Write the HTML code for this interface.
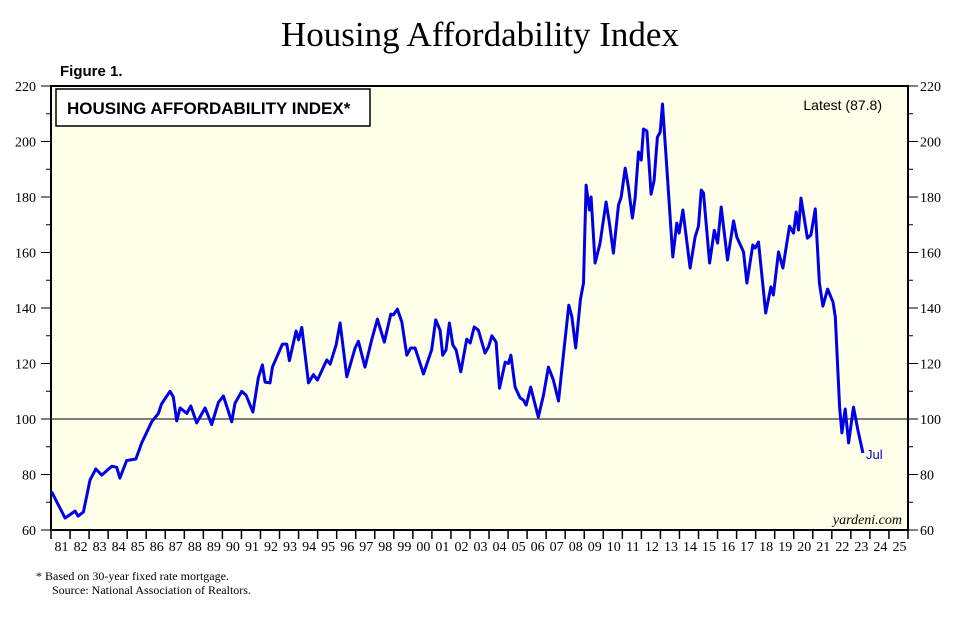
<!DOCTYPE html>
<html><head><meta charset="utf-8"><style>
body{margin:0;background:#fff;width:964px;height:620px;overflow:hidden}
svg text{font-family:"Liberation Sans",sans-serif}
</style></head><body>
<svg id="c" width="964" height="620">
<text x="480" y="46" text-anchor="middle" style="font-family:'Liberation Serif',serif;font-size:35px">Housing Affordability Index</text>
<text x="60" y="76" style="font-weight:bold;font-size:15px">Figure 1.</text>
<rect x="51" y="86" width="857" height="444" fill="#fffee9" stroke="#000" stroke-width="2"/>
<g id="grid"></g>
<g id="axes"></g>
<path id="line" fill="none" stroke="#0000e6" stroke-width="3" stroke-linejoin="round"/>
<rect x="56" y="89" width="314" height="37" fill="#fff" stroke="#000" stroke-width="1.5"/>
<text x="67" y="114" style="font-weight:bold;font-size:17px">HOUSING AFFORDABILITY INDEX*</text>
<text x="882" y="110" text-anchor="end" style="font-size:14px">Latest (87.8)</text>
<text x="866" y="459" fill="#0000cc" style="font-size:13px">Jul</text>
<text x="902" y="524" text-anchor="end" style="font-family:'Liberation Serif',serif;font-style:italic;font-size:14px">yardeni.com</text>
<text x="36" y="580" style="font-family:'Liberation Serif',serif;font-size:12px">*   Based on 30-year fixed rate mortgage.</text>
<text x="52" y="594" style="font-family:'Liberation Serif',serif;font-size:12px">Source: National Association of Realtors.</text>
</svg>
<script>
const dates=[1981.03,1981.74,1982.26,1982.43,1982.7,1983.05,1983.35,1983.66,1984.19,1984.45,1984.62,1984.97,1985.46,1985.76,1986.29,1986.64,1986.8,1987.25,1987.42,1987.6,1987.78,1988.13,1988.34,1988.65,1989.09,1989.44,1989.79,1990.05,1990.28,1990.49,1990.66,1991.02,1991.24,1991.6,1991.89,1992.1,1992.24,1992.5,1992.63,1992.86,1993.15,1993.38,1993.52,1993.87,1994,1994.17,1994.52,1994.78,1994.99,1995.48,1995.66,1995.97,1996.18,1996.53,1996.97,1997.14,1997.49,1997.84,1998.14,1998.5,1998.84,1998.98,1999.19,1999.42,1999.68,1999.89,2000.12,2000.56,2000.99,2001.2,2001.43,2001.57,2001.74,2001.92,2002.1,2002.27,2002.52,2002.83,2003.01,2003.22,2003.44,2003.79,2003.97,2004.15,2004.37,2004.55,2004.85,2005.02,2005.15,2005.37,2005.63,2005.81,2005.95,2006.19,2006.59,2006.86,2007.12,2007.38,2007.65,2007.91,2008.19,2008.35,2008.55,2008.8,2008.96,2009.1,2009.27,2009.36,2009.57,2009.83,2009.97,2010.15,2010.32,2010.53,2010.8,2010.94,2011.15,2011.32,2011.53,2011.67,2011.85,2011.99,2012.11,2012.29,2012.51,2012.67,2012.84,2012.99,2013.11,2013.3,2013.65,2013.86,2013.98,2014.18,2014.56,2014.82,2015,2015.14,2015.26,2015.58,2015.83,2016,2016.19,2016.52,2016.84,2017.01,2017.36,2017.54,2017.85,2017.97,2018.15,2018.53,2018.8,2018.93,2019.2,2019.43,2019.78,2019.99,2020.13,2020.25,2020.38,2020.72,2020.9,2021.13,2021.35,2021.53,2021.78,2022.06,2022.18,2022.41,2022.53,2022.7,2022.88,2023.14,2023.37,2023.63];
const values=[73.8,64.3,66.8,65,66.5,78,82,79.8,83,82.6,78.7,85,85.6,91.4,99,102,105.4,110,108,99.3,104,102,104.7,98.6,104,98,106,108.3,103.5,99,105.7,110,108.6,102.5,115,119.5,113.3,113,118.8,122.4,127,127,121,131.7,128.5,133,113,116,114,121.3,119.8,126.7,134.6,115.2,125.6,128,118.7,128.5,136,127.7,137.8,137.5,139.6,135,123,125.6,125.6,116.2,125,135.7,132,123,124.9,134.6,126.7,124.9,117,128.8,127.4,133.2,132,123.8,126,130,127.7,111.1,120.5,120,123,111.5,107.6,106.8,105,111.5,100.7,108.6,118.7,114,106.5,123.4,141,136.8,125.6,143,149,184.3,175.3,180,156.2,163.4,170,178.2,170.6,159.8,177.1,180,190.4,183.6,172.4,179.6,196.2,193.3,204.5,203.8,181,186,201.6,203.4,213.5,194.4,158.4,170.6,167,175.3,154.4,165.6,169.5,182.5,181.4,156.2,168,163.4,176.4,157.3,171.4,165.6,160.2,149,162.7,161.6,163.8,138.2,147.6,144.7,160.2,154.4,169.5,167,174.6,168.1,179.6,165.2,166.3,175.7,149,140.7,146.8,142.2,136.8,104.3,95,103.6,91.4,104.3,96,87.8];
const yTicks=[60,80,100,120,140,160,180,200,220];
const yearLabels=['81','82','83','84','85','86','87','88','89','90','91','92','93','94','95','96','97','98','99','00','01','02','03','04','05','06','07','08','09','10','11','12','13','14','15','16','17','18','19','20','21','22','23','24','25'];
const X0=51,X1=908,Y0=530,Y1=86;
const xs=d=>X0+(d-1981)*(X1-X0)/45;
const ys=v=>Y0-(v-60)*(Y0-Y1)/160;
const NS='http://www.w3.org/2000/svg';
const mk=(t,a,p,txt)=>{const e=document.createElementNS(NS,t);for(const k in a)e.setAttribute(k,a[k]);if(txt!==undefined)e.textContent=txt;p.appendChild(e);return e;};
const ax=document.getElementById('axes'),gr=document.getElementById('grid');
const ref=mk('line',{x1:X0,x2:X1,y1:ys(100),y2:ys(100),stroke:'#333','stroke-width':1.2},gr);


for(let v=60;v<=220;v+=10){
  const major=v%20===0;
  const l1=mk('line',{x1:major?X0-10:X0-5,x2:X0,y1:ys(v),y2:ys(v),stroke:'#000','stroke-width':1},ax);
  
  
  const l2=mk('line',{x1:X1,x2:major?X1+10:X1+5,y1:ys(v),y2:ys(v),stroke:'#000','stroke-width':1},ax);
  
  
}
yTicks.forEach(v=>{
  const a=mk('text',{x:36,y:ys(v)+5,'text-anchor':'end',style:"font-family:'Liberation Serif',serif;font-size:14px"},ax,String(v));
  
  
  const b=mk('text',{x:920,y:ys(v)+5,style:"font-family:'Liberation Serif',serif;font-size:14px"},ax,String(v));
  
  
});
yearLabels.forEach((lab,i)=>{
  const t=mk('line',{x1:xs(1981+i),x2:xs(1981+i),y1:Y0,y2:Y0+9,stroke:'#000','stroke-width':1.5},ax);
  
  
  const tx=mk('text',{x:xs(1981.5+i)+1,y:Y0+21,'text-anchor':'middle',style:"font-family:'Liberation Serif',serif;font-size:14px"},ax,lab);
  
  
});
const tEnd=mk('line',{x1:X1,x2:X1,y1:Y0,y2:Y0+9,stroke:'#000','stroke-width':1.5},ax);


document.getElementById('line').setAttribute('d',dates.map((d,i)=>(i?'L':'M')+xs(d).toFixed(1)+','+ys(values[i]).toFixed(1)).join(''));
</script>
</body></html>
